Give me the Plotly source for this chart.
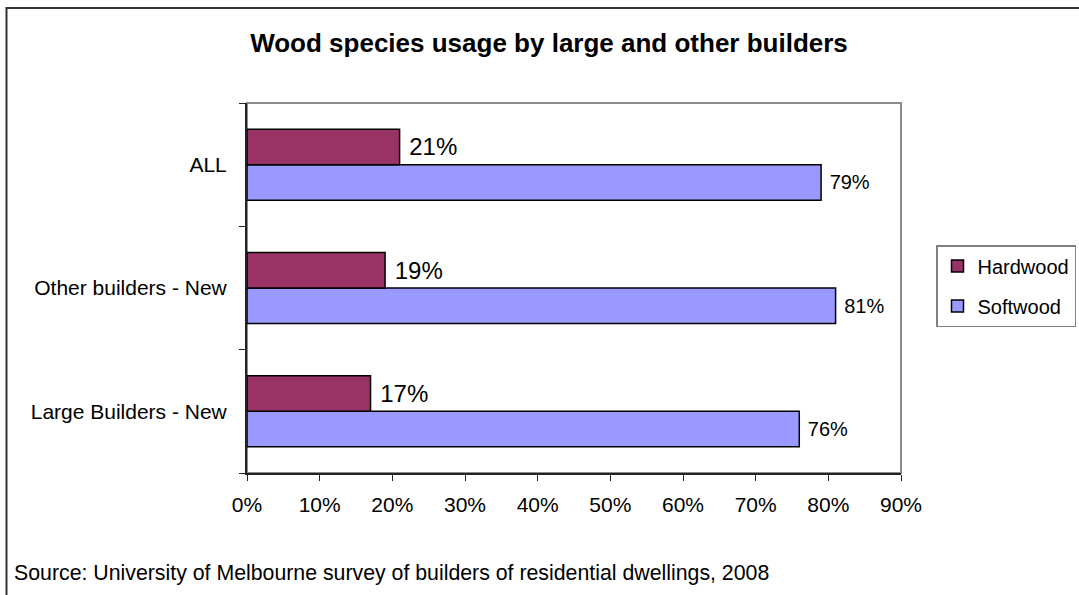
import plotly.graph_objects as go

categories = ["Large Builders - New", "Other builders - New", "ALL"]
hardwood = [17, 19, 21]
softwood = [76, 81, 79]
x_ticks = [0, 10, 20, 30, 40, 50, 60, 70, 80, 90]

title_text = "Wood species usage by large and other builders"
source_text = "Source: University of Melbourne survey of builders of residential dwellings, 2008"

FONT = "Liberation Sans, Arial, sans-serif"
W, H = 1079, 595
L, R, T, B = 247, 901, 103, 473

fig = go.Figure()
fig.add_trace(go.Bar(
    name="Softwood", y=categories, x=softwood, orientation="h",
    marker=dict(color="#9999FF", line=dict(color="black", width=1.5)),
    text=[f"\u00a0{v}%" for v in softwood], textposition="outside",
    textfont=dict(size=20, color="black", family=FONT),
    constraintext="none", cliponaxis=False,
    legendgroup="s", legendrank=2, hoverinfo="skip",
))
fig.add_trace(go.Bar(
    name="Hardwood", y=categories, x=hardwood, orientation="h",
    marker=dict(color="#993366", line=dict(color="black", width=1.5)),
    text=[f"\u00a0{v}%" for v in hardwood], textposition="outside",
    textfont=dict(size=24, color="black", family=FONT),
    constraintext="none", cliponaxis=False,
    legendgroup="h", legendrank=1, hoverinfo="skip",
))

pw, ph = R - L, B - T
def px(xp):
    return (xp - L) / pw
def py(yp):
    return (B - yp) / ph

fig.update_layout(
    width=W, height=H,
    margin=dict(l=L, r=W - R, t=T, b=H - B, pad=0, autoexpand=False),
    paper_bgcolor="white", plot_bgcolor="white",
    font=dict(family=FONT, color="black", size=20),
    barmode="group", bargap=0.424, bargroupgap=0,
    title=dict(text=f"<b>{title_text}</b>", x=549 / W, xanchor="center",
               y=1 - 42.5 / H, yanchor="middle",
               font=dict(size=26, family=FONT, color="black")),
    xaxis=dict(range=[0, 90], tickvals=x_ticks, ticktext=[f"{v}%" for v in x_ticks],
               showgrid=False, zeroline=False, showline=True, linecolor="#222222",
               linewidth=2, ticks="outside", ticklen=6, tickwidth=1, tickcolor="#222222",
               tickfont=dict(size=21), ticklabelstandoff=6, fixedrange=True,
               automargin=False),
    yaxis=dict(showgrid=False, zeroline=False, showline=True, linecolor="#222222",
               linewidth=2, ticks="outside", ticklen=6, tickwidth=1, tickcolor="#222222",
               tickson="boundaries", tickfont=dict(size=21), ticklabelstandoff=14,
               fixedrange=True, automargin=False),
    legend=dict(xref="container", yref="container", x=936 / W, y=1 - 245 / H,
                xanchor="left", yanchor="top",
                bordercolor="#808080", borderwidth=1.5, bgcolor="white",
                font=dict(size=20), tracegroupgap=11, traceorder="grouped"),
    showlegend=True,
    shapes=[
        dict(type="rect", xref="paper", yref="paper", x0=0, x1=1, y0=0, y1=1,
             line=dict(color="#8c8c8c", width=2), layer="below"),
        dict(type="rect", xref="paper", yref="paper",
             x0=px(6.5), x1=px(1095), y0=py(610), y1=py(8),
             line=dict(color="#333333", width=2), layer="below"),
    ],
    annotations=[
        dict(text=source_text, xref="paper", yref="paper", x=px(12), y=py(573),
             xanchor="left", yanchor="middle", showarrow=False,
             font=dict(size=21.3, family=FONT, color="black")),
    ],
)

fig.write_html("out.html", config={"displayModeBar": False, "staticPlot": True},
               post_script="document.body.style.margin='0px';document.body.style.overflow='hidden';")
